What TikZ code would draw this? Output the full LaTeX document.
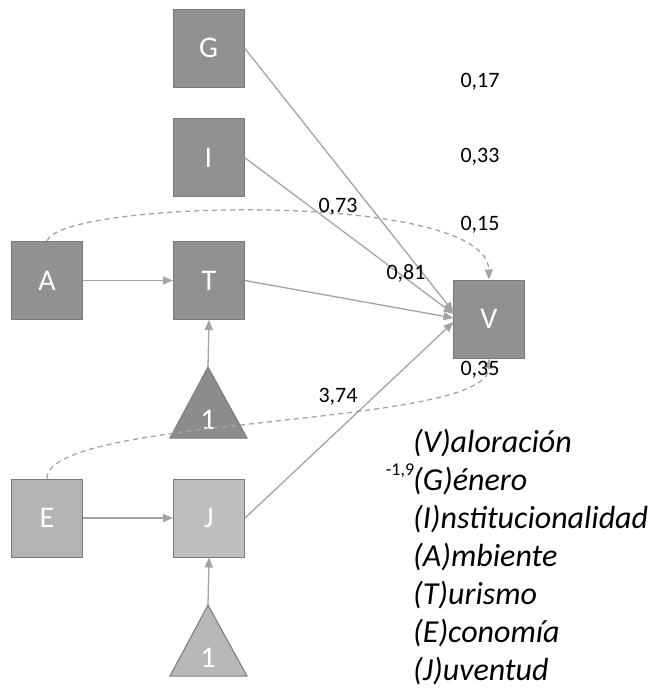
\documentclass[tikz,border=0pt]{standalone}
\usepackage{fontspec}
\setmainfont{Carlito}
\usetikzlibrary{arrows.meta}
\definecolor{boxdark}{HTML}{919191}
\definecolor{boxborder}{HTML}{7A7A7A}
\definecolor{triadark}{HTML}{8C8C8C}
\definecolor{boxE}{HTML}{B3B3B3}
\definecolor{boxJ}{HTML}{BEBEBE}
\definecolor{trialight}{HTML}{B8B8B8}
\definecolor{linecol}{HTML}{A3A3A3}
\tikzset{
  varbox/.style={draw=boxborder, line width=1pt, fill=boxdark, minimum width=71pt, minimum height=78pt, inner sep=0pt, text=white, font=\fontsize{30}{34}\selectfont},
  tri/.style={draw=boxborder, line width=1pt},
  trilabel/.style={text=white, inner sep=0pt, font=\fontsize{30}{34}\selectfont},
  conn/.style={draw=linecol, line width=1.3pt, -{Triangle[length=10pt,width=8pt]}},
  dconn/.style={draw=linecol, line width=1.3pt, dash pattern=on 5pt off 4pt, -{Triangle[length=10pt,width=8pt]}},
  coef/.style={inner sep=0pt, font=\fontsize{22}{26}\selectfont},
  legend/.style={anchor=west, inner sep=0pt, font=\fontsize{32}{37}\selectfont\itshape}
}
\begin{document}
\begin{tikzpicture}[x=1pt,y=-1pt]
\useasboundingbox (0,0) rectangle (654,689);

% triangles
\draw[tri, fill=triadark] (208,367) -- (247,438) -- (170,438) -- cycle;
\coordinate (tri1) at (208,367);
\node[trilabel] (one1) at (208,420) {1};
\draw[tri, fill=trialight] (208,605) -- (247,676) -- (170,676) -- cycle;
\coordinate (tri2) at (208,605);
\node[trilabel] (one2) at (208,658) {1};

% boxes
\node[varbox] (G) at (208.5,48) {G};
\node[varbox] (I) at (208.5,157.5) {I};
\node[varbox] (A) at (47,280.5) {A};
\node[varbox] (T) at (209,280.5) {T};
\node[varbox] (V) at (489,319) {V};
\node[varbox, fill=boxE] (E) at (47,518) {E};
\node[varbox, fill=boxJ] (J) at (209,518) {J};

% connector end points on V
\coordinate (vg) at (453.5,312);
\coordinate (vi) at (453.5,314);
\coordinate (vt) at (453.5,318);
\coordinate (vj) at (453.5,322);

% connectors
\draw[conn] (A.east) -- (T.west);
\draw[conn] (E.east) -- (J.west);
\draw[conn] (tri1) -- (T.south);
\draw[conn] (tri2) -- (J.south);
\draw[conn] (G.east) -- (vg);
\draw[conn] (I.east) -- (vi);
\draw[conn] (T.east) -- (vt);
\draw[conn] (J.east) -- (vj);

% dashed covariances
\draw[dconn] (A.north) .. controls (60,200) and (487,190) .. (V.north);
\draw[dconn] (E.north) .. controls (48,415) and (488,428) .. (V.south);

% coefficients
\node[coef] (c17) at (480,82) {0,17};
\node[coef] (c33) at (480,157) {0,33};
\node[coef] (c15) at (480,225) {0,15};
\node[coef] (c73) at (338,207) {0,73};
\node[coef] (c81) at (406,273) {0,81};
\node[coef] (c35) at (480,370) {0,35};
\node[coef] (c374) at (338,397) {3,74};
\node[inner sep=0pt, font=\fontsize{18}{21}\selectfont] (c19) at (400,471) {-1,9};

% legend
\node[legend] (lv) at (413,443) {(V)aloración};
\node[legend] (lg) at (413,481) {(G)énero};
\node[legend] (li) at (413,519) {(I)nstitucionalidad};
\node[legend] (la) at (413,557) {(A)mbiente};
\node[legend] (lt) at (413,595) {(T)urismo};
\node[legend] (le) at (413,633) {(E)conomía};
\node[legend] (lj) at (413,671) {(J)uventud};
\end{tikzpicture}
\end{document}
